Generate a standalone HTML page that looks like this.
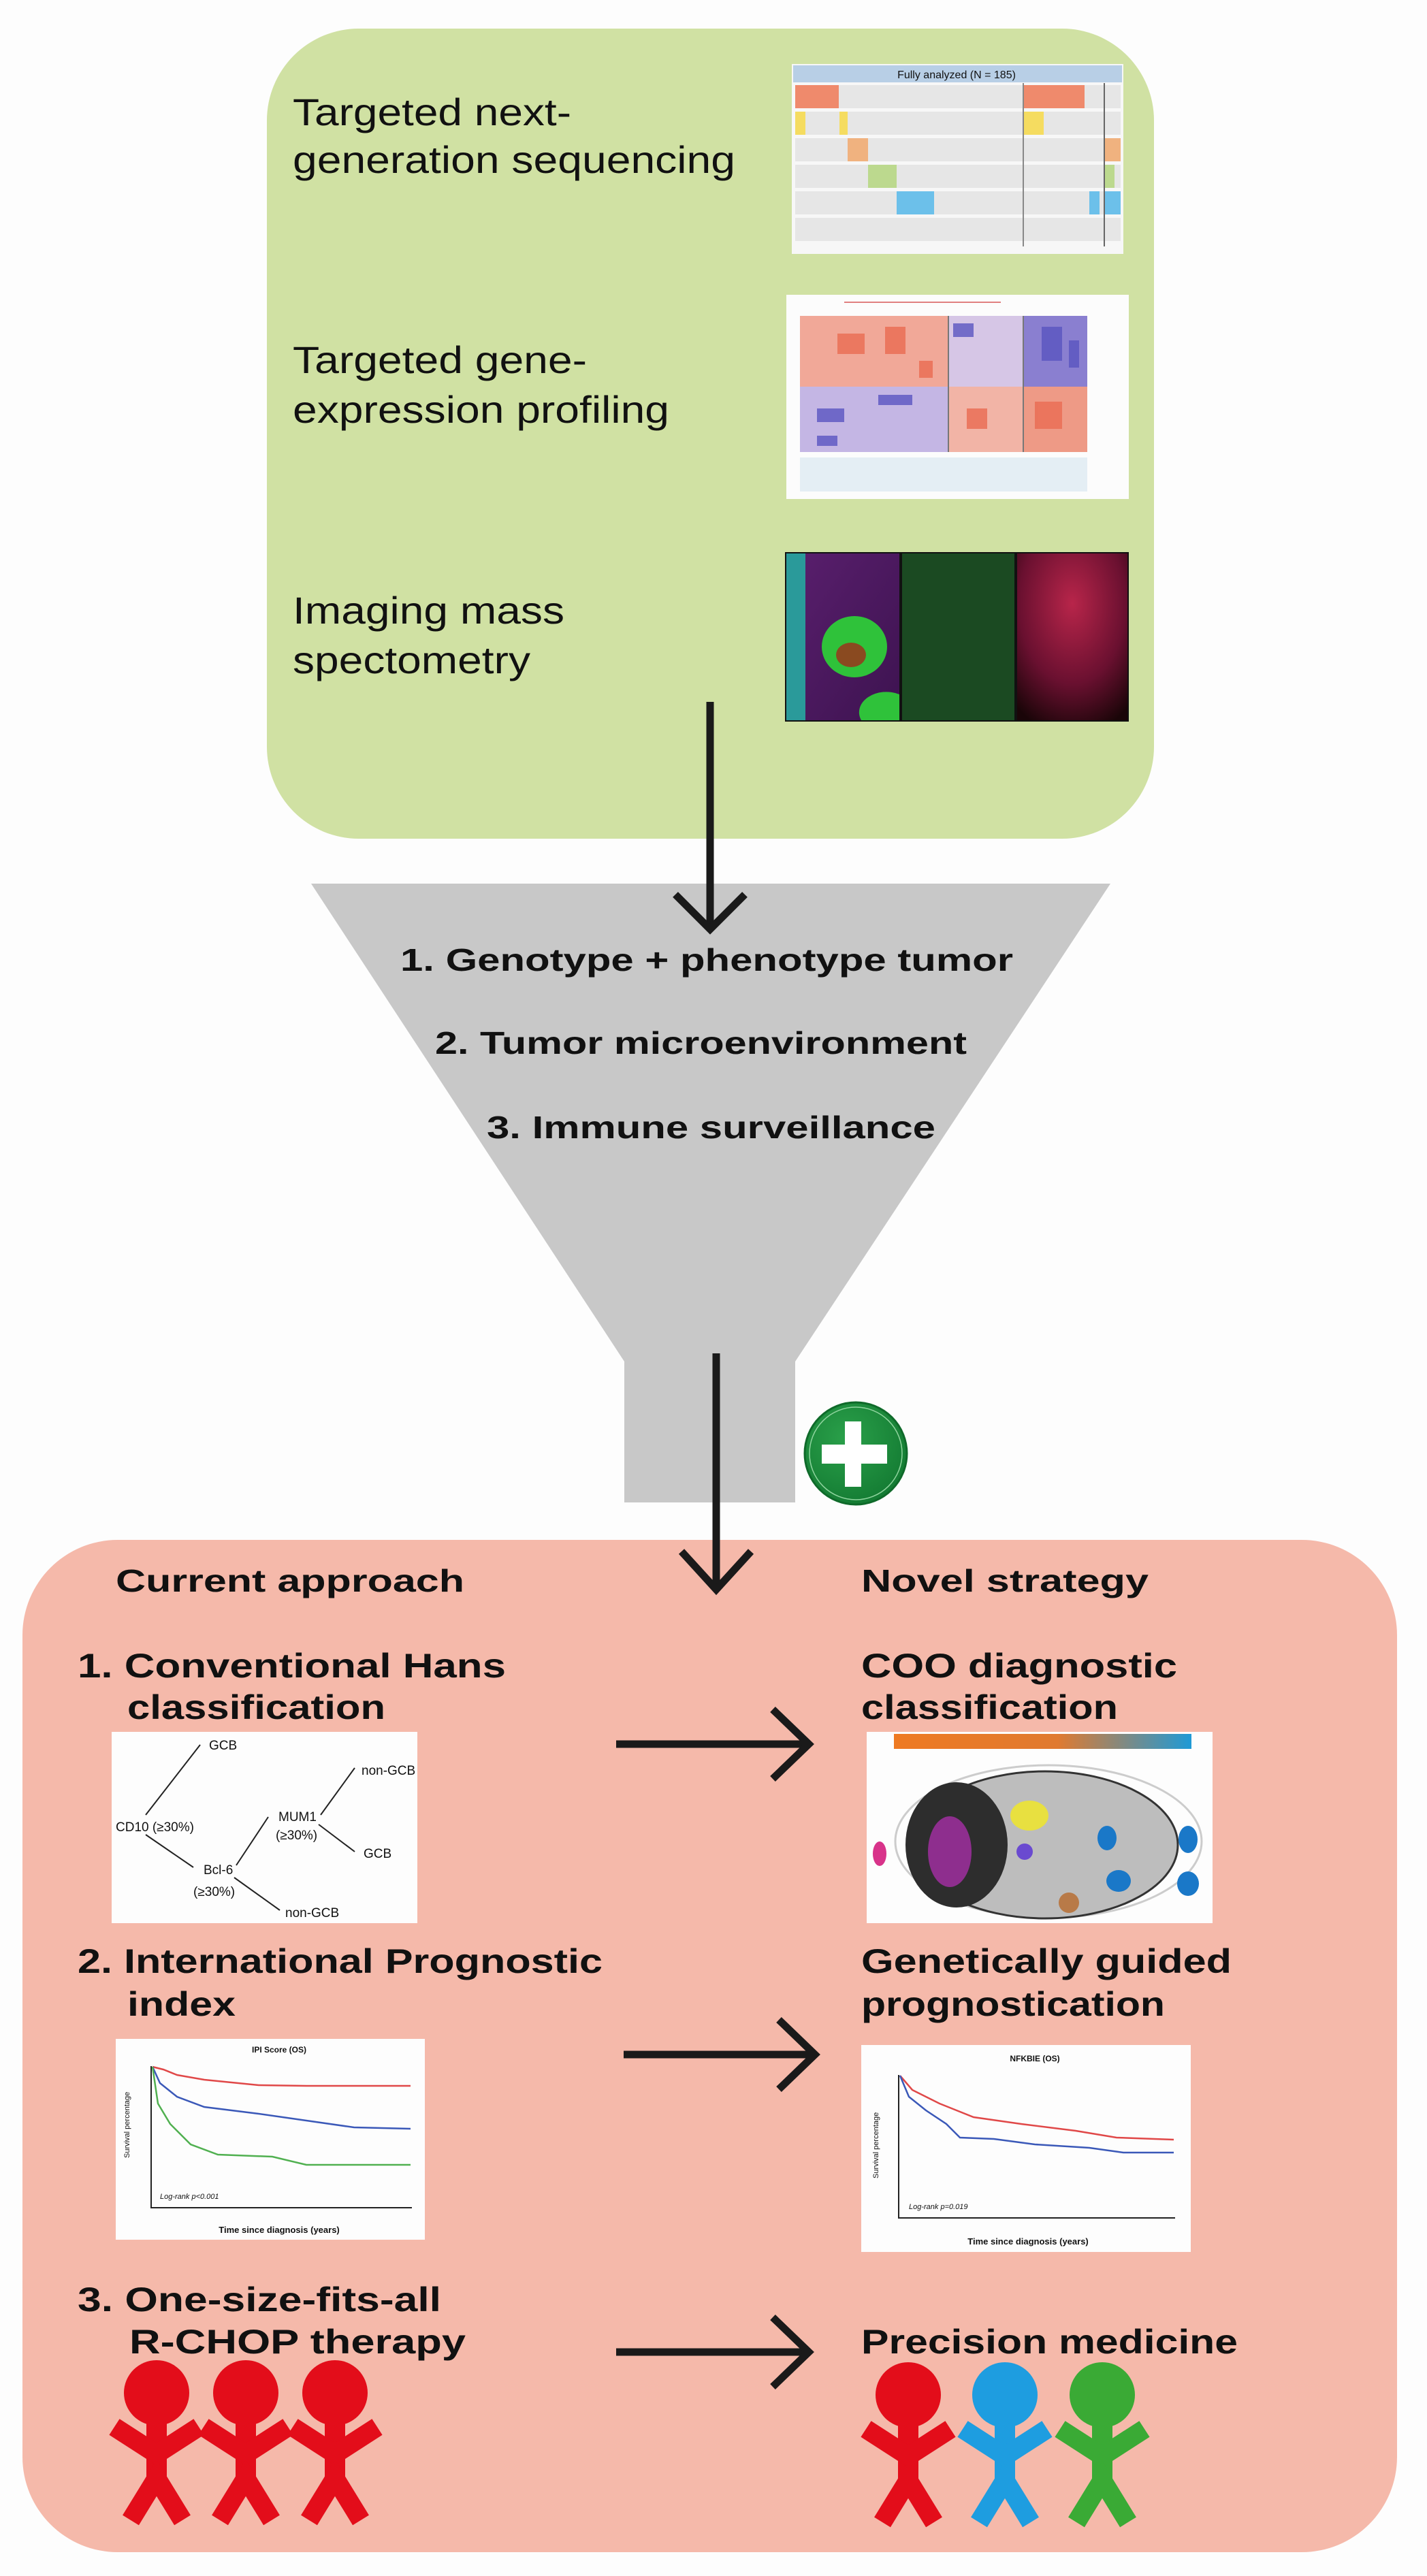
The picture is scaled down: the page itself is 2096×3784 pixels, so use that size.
<!DOCTYPE html>
<html><head><meta charset="utf-8">
<style>
html,body{margin:0;padding:0;background:#fdfdfd;}
svg{display:block;}
text{font-family:"Liberation Sans",sans-serif;fill:#111;}
</style></head>
<body>
<svg width="2096" height="3784" viewBox="0 0 2096 3784" xmlns="http://www.w3.org/2000/svg">
<defs>
<linearGradient id="ims1" x1="0" y1="0" x2="1" y2="1"><stop offset="0" stop-color="#5a1f6e"/><stop offset="1" stop-color="#3d1350"/></linearGradient>
<radialGradient id="ims3" cx="0.5" cy="0.3" r="0.8"><stop offset="0" stop-color="#b8254a"/><stop offset="0.6" stop-color="#6a1030"/><stop offset="1" stop-color="#1a0508"/></radialGradient>
<linearGradient id="cooBar" x1="0" x2="1"><stop offset="0" stop-color="#ee7a22"/><stop offset="0.55" stop-color="#e07a30"/><stop offset="1" stop-color="#1f9ad6"/></linearGradient>
<radialGradient id="plusG" cx="0.4" cy="0.35" r="0.7"><stop offset="0" stop-color="#2aa04a"/><stop offset="1" stop-color="#137a32"/></radialGradient>
</defs>

<rect x="392" y="42" width="1303" height="1190" rx="135" fill="#d0e1a3"/>
<text x="430" y="184" font-size="56" textLength="409" lengthAdjust="spacingAndGlyphs">Targeted next-</text>
<text x="430" y="254" font-size="56" textLength="650" lengthAdjust="spacingAndGlyphs">generation sequencing</text>
<text x="430" y="548" font-size="56" textLength="432" lengthAdjust="spacingAndGlyphs">Targeted gene-</text>
<text x="430" y="621" font-size="56" textLength="553" lengthAdjust="spacingAndGlyphs">expression profiling</text>
<text x="430" y="916" font-size="56" textLength="399" lengthAdjust="spacingAndGlyphs">Imaging mass</text>
<text x="430" y="989" font-size="56" textLength="349" lengthAdjust="spacingAndGlyphs">spectometry</text>

<g>
<rect x="1163" y="94" width="487" height="279" fill="#f7f7f7"/>
<rect x="1165" y="96" width="483" height="25" fill="#b8cfe6"/>
<text x="1405" y="115" font-size="16" text-anchor="middle" fill="#333">Fully analyzed (N = 185)</text>
<g fill="#e6e6e6">
<rect x="1168" y="125" width="478" height="34"/><rect x="1168" y="164" width="478" height="34"/>
<rect x="1168" y="203" width="478" height="34"/><rect x="1168" y="242" width="478" height="34"/>
<rect x="1168" y="281" width="478" height="34"/><rect x="1168" y="320" width="478" height="34"/>
</g>
<rect x="1168" y="125" width="64" height="34" fill="#ef8a6c"/>
<rect x="1503" y="125" width="90" height="34" fill="#ef8a6c"/>
<rect x="1168" y="164" width="15" height="34" fill="#f5dc60"/>
<rect x="1233" y="164" width="12" height="34" fill="#f5dc60"/>
<rect x="1503" y="164" width="30" height="34" fill="#f5dc60"/>
<rect x="1245" y="203" width="30" height="34" fill="#f0b27f"/>
<rect x="1623" y="203" width="23" height="34" fill="#f0b27f"/>
<rect x="1275" y="242" width="42" height="34" fill="#bcd98e"/>
<rect x="1623" y="242" width="14" height="34" fill="#bcd98e"/>
<rect x="1317" y="281" width="55" height="34" fill="#6cc0ea"/>
<rect x="1600" y="281" width="15" height="34" fill="#6cc0ea"/>
<rect x="1623" y="281" width="23" height="34" fill="#6cc0ea"/>
<rect x="1502" y="122" width="2" height="240" fill="#888"/>
<rect x="1621" y="122" width="2" height="240" fill="#666"/>
</g>

<g>
<rect x="1155" y="433" width="503" height="300" fill="#fcfcfc"/>
<rect x="1175" y="464" width="218" height="104" fill="#f1a898"/>
<rect x="1393" y="464" width="110" height="104" fill="#d6c6e6"/>
<rect x="1503" y="464" width="94" height="104" fill="#8a7fd0"/>
<rect x="1175" y="568" width="218" height="96" fill="#c4b6e4"/>
<rect x="1393" y="568" width="110" height="96" fill="#f2b4a6"/>
<rect x="1503" y="568" width="94" height="96" fill="#ee9a86"/>
<g fill="#ea6b52" opacity="0.8">
<rect x="1230" y="490" width="40" height="30"/><rect x="1300" y="480" width="30" height="40"/><rect x="1350" y="530" width="20" height="25"/>
<rect x="1420" y="600" width="30" height="30"/><rect x="1520" y="590" width="40" height="40"/>
</g>
<g fill="#5a55c0" opacity="0.8">
<rect x="1400" y="475" width="30" height="20"/><rect x="1530" y="480" width="30" height="50"/><rect x="1570" y="500" width="15" height="40"/>
<rect x="1200" y="600" width="40" height="20"/><rect x="1290" y="580" width="50" height="15"/><rect x="1200" y="640" width="30" height="15"/>
</g>
<rect x="1392" y="464" width="2" height="200" fill="#777"/>
<rect x="1502" y="464" width="2" height="200" fill="#777"/>
<rect x="1175" y="672" width="422" height="50" fill="#e4eef4"/>
<rect x="1240" y="443" width="230" height="2" fill="#e08080"/>
</g>

<g>
<rect x="1153" y="811" width="505" height="249" fill="#111"/>
<rect x="1155" y="813" width="166" height="245" fill="url(#ims1)"/>
<rect x="1155" y="813" width="28" height="245" fill="#2a9a9a"/>
<ellipse cx="1255" cy="950" rx="48" ry="45" fill="#2fc23a"/>
<ellipse cx="1250" cy="962" rx="22" ry="18" fill="#8a4a20"/>
<path d="M1265,1058 A40,30 0 0,1 1321,1020 L1321,1058 Z" fill="#2fc23a"/>
<rect x="1325" y="813" width="165" height="245" fill="#173a1c"/>
<rect x="1325" y="813" width="165" height="245" fill="#1f5a28" opacity="0.5"/>
<rect x="1494" y="813" width="162" height="245" fill="url(#ims3)"/>
</g>

<polygon points="457,1298 1631,1298 1168,2000 1168,2207 917,2207 917,2000" fill="#c8c8c8"/>
<g stroke="#1a1a1a" stroke-width="11" fill="none">
<line x1="1043" y1="1031" x2="1043" y2="1362"/>
<polyline points="992,1314 1043,1365 1094,1314"/>
</g>
<text x="588" y="1426" font-size="46" font-weight="bold" textLength="900" lengthAdjust="spacingAndGlyphs">1. Genotype + phenotype tumor</text>
<text x="639" y="1548" font-size="46" font-weight="bold" textLength="781" lengthAdjust="spacingAndGlyphs">2. Tumor microenvironment</text>
<text x="715" y="1672" font-size="46" font-weight="bold" textLength="659" lengthAdjust="spacingAndGlyphs">3. Immune surveillance</text>

<rect x="33" y="2262" width="2019" height="1487" rx="140" fill="#f5b9aa"/>

<g stroke="#1a1a1a" stroke-width="11" fill="none">
<line x1="1052" y1="1988" x2="1052" y2="2332"/>
<polyline points="1001,2279 1052,2335 1103,2279"/>
</g>

<circle cx="1257" cy="2135" r="75" fill="url(#plusG)" stroke="#0f6a2a" stroke-width="3"/>
<circle cx="1257" cy="2135" r="68" fill="none" stroke="#8fd49e" stroke-width="1.5"/>
<rect x="1207" y="2122" width="96" height="28" fill="#fff"/>
<rect x="1241" y="2088" width="24" height="96" fill="#fff"/>

<text x="170" y="2338" font-size="46" font-weight="bold" textLength="512" lengthAdjust="spacingAndGlyphs">Current approach</text>
<text x="1265" y="2338" font-size="46" font-weight="bold" textLength="422" lengthAdjust="spacingAndGlyphs">Novel strategy</text>

<text x="114" y="2464" font-size="50" font-weight="bold" textLength="629" lengthAdjust="spacingAndGlyphs">1. Conventional Hans</text>
<text x="187" y="2525" font-size="50" font-weight="bold" textLength="379" lengthAdjust="spacingAndGlyphs">classification</text>
<text x="1265" y="2464" font-size="50" font-weight="bold" textLength="464" lengthAdjust="spacingAndGlyphs">COO diagnostic</text>
<text x="1265" y="2525" font-size="50" font-weight="bold" textLength="377" lengthAdjust="spacingAndGlyphs">classification</text>

<!-- Hans image -->
<g>
<rect x="164" y="2544" width="449" height="281" fill="#fdfdfd"/>
<g stroke="#222" stroke-width="2" fill="none">
<line x1="214" y1="2666" x2="294" y2="2563"/>
<line x1="214" y1="2695" x2="284" y2="2743"/>
<line x1="347" y1="2740" x2="394" y2="2669"/>
<line x1="344" y1="2758" x2="411" y2="2806"/>
<line x1="471" y1="2666" x2="521" y2="2597"/>
<line x1="468" y1="2680" x2="521" y2="2720"/>
</g>
<g font-size="19" fill="#222">
<text x="307" y="2570">GCB</text>
<text x="170" y="2690">CD10 (≥30%)</text>
<text x="409" y="2675">MUM1</text>
<text x="405" y="2702">(≥30%)</text>
<text x="531" y="2607">non-GCB</text>
<text x="534" y="2729">GCB</text>
<text x="299" y="2753">Bcl-6</text>
<text x="284" y="2785">(≥30%)</text>
<text x="419" y="2816">non-GCB</text>
</g>
</g>

<g>
<rect x="1273" y="2544" width="508" height="281" fill="#fdfdfd"/>
<rect x="1313" y="2547" width="437" height="22" fill="url(#cooBar)"/>
<ellipse cx="1540" cy="2705" rx="225" ry="112" fill="none" stroke="#ccc" stroke-width="3"/>
<ellipse cx="1535" cy="2710" rx="195" ry="108" fill="#bdbdbd" stroke="#333" stroke-width="3"/>
<ellipse cx="1405" cy="2710" rx="75" ry="92" fill="#2d2d2d"/>
<ellipse cx="1395" cy="2720" rx="32" ry="52" fill="#8e2e8e"/>
<ellipse cx="1292" cy="2723" rx="10" ry="18" fill="#d8338a"/>
<ellipse cx="1512" cy="2667" rx="28" ry="22" fill="#e8e040"/>
<circle cx="1505" cy="2720" r="12" fill="#6a4ad0"/>
<ellipse cx="1626" cy="2700" rx="14" ry="18" fill="#1a78c8"/>
<ellipse cx="1745" cy="2702" rx="14" ry="20" fill="#1a78c8"/>
<ellipse cx="1643" cy="2763" rx="18" ry="16" fill="#1a78c8"/>
<ellipse cx="1745" cy="2767" rx="16" ry="18" fill="#1a78c8"/>
<circle cx="1570" cy="2795" r="15" fill="#b87a48"/>
</g>

<g stroke="#1a1a1a" stroke-width="11" fill="none">
<line x1="905" y1="2562" x2="1186" y2="2562"/>
<polyline points="1135,2511 1188,2562 1135,2613"/>
</g>

<text x="114" y="2898" font-size="50" font-weight="bold" textLength="771" lengthAdjust="spacingAndGlyphs">2. International Prognostic</text>
<text x="187" y="2961" font-size="50" font-weight="bold" textLength="159" lengthAdjust="spacingAndGlyphs">index</text>
<text x="1265" y="2898" font-size="50" font-weight="bold" textLength="544" lengthAdjust="spacingAndGlyphs">Genetically guided</text>
<text x="1265" y="2961" font-size="50" font-weight="bold" textLength="446" lengthAdjust="spacingAndGlyphs">prognostication</text>

<g>
<rect x="170" y="2995" width="454" height="295" fill="#fdfdfd"/>
<text x="410" y="3015" font-size="12" font-weight="bold" text-anchor="middle">IPI Score (OS)</text>
<polyline points="222,3035 222,3243 605,3243" stroke="#222" stroke-width="2" fill="none"/>
<polyline points="224,3036 240,3040 260,3048 300,3055 380,3063 450,3064 603,3064" stroke="#e04848" stroke-width="2.5" fill="none"/>
<polyline points="224,3036 235,3060 260,3080 300,3095 380,3105 450,3115 520,3125 603,3127" stroke="#3a58b8" stroke-width="2.5" fill="none"/>
<polyline points="224,3036 232,3090 250,3120 280,3150 320,3165 400,3168 450,3180 603,3180" stroke="#50b050" stroke-width="2.5" fill="none"/>
<text x="190" y="3170" font-size="11" transform="rotate(-90 190 3170)">Survival percentage</text>
<text x="235" y="3230" font-size="11" font-style="italic">Log-rank p&lt;0.001</text>
<text x="410" y="3280" font-size="13" font-weight="bold" text-anchor="middle">Time since diagnosis (years)</text>
</g>

<g>
<rect x="1265" y="3004" width="484" height="304" fill="#fdfdfd"/>
<text x="1520" y="3028" font-size="12" font-weight="bold" text-anchor="middle">NFKBIE (OS)</text>
<polyline points="1320,3048 1320,3258 1726,3258" stroke="#222" stroke-width="2" fill="none"/>
<polyline points="1322,3049 1340,3070 1380,3090 1430,3110 1500,3120 1580,3130 1640,3140 1724,3143" stroke="#e04848" stroke-width="2.5" fill="none"/>
<polyline points="1322,3049 1335,3080 1360,3100 1390,3120 1410,3140 1460,3142 1520,3150 1600,3155 1650,3162 1724,3162" stroke="#3a58b8" stroke-width="2.5" fill="none"/>
<text x="1290" y="3200" font-size="11" transform="rotate(-90 1290 3200)">Survival percentage</text>
<text x="1335" y="3245" font-size="11" font-style="italic">Log-rank p=0.019</text>
<text x="1510" y="3297" font-size="13" font-weight="bold" text-anchor="middle">Time since diagnosis (years)</text>
</g>

<g stroke="#1a1a1a" stroke-width="11" fill="none">
<line x1="916" y1="3018" x2="1195" y2="3018"/>
<polyline points="1144,2967 1197,3018 1144,3069"/>
</g>

<text x="114" y="3395" font-size="50" font-weight="bold" textLength="534" lengthAdjust="spacingAndGlyphs">3. One-size-fits-all</text>
<text x="190" y="3457" font-size="50" font-weight="bold" textLength="494" lengthAdjust="spacingAndGlyphs">R-CHOP therapy</text>
<text x="1265" y="3457" font-size="50" font-weight="bold" textLength="553" lengthAdjust="spacingAndGlyphs">Precision medicine</text>

<g stroke="#1a1a1a" stroke-width="11" fill="none">
<line x1="905" y1="3455" x2="1186" y2="3455"/>
<polyline points="1135,3404 1188,3455 1135,3506"/>
</g>

<g>
<g fill="#e30d1a" stroke="#e30d1a">
<circle cx="230" cy="3515" r="48" stroke="none"/>
<line x1="230" y1="3550" x2="230" y2="3650" stroke-width="30"/>
<polyline points="168,3565 230,3605 292,3565" stroke-width="28" fill="none"/>
<polyline points="192,3702 230,3640 268,3702" stroke-width="28" fill="none"/>
</g>
<g fill="#e30d1a" stroke="#e30d1a">
<circle cx="361" cy="3515" r="48" stroke="none"/>
<line x1="361" y1="3550" x2="361" y2="3650" stroke-width="30"/>
<polyline points="299,3565 361,3605 423,3565" stroke-width="28" fill="none"/>
<polyline points="323,3702 361,3640 399,3702" stroke-width="28" fill="none"/>
</g>
<g fill="#e30d1a" stroke="#e30d1a">
<circle cx="492" cy="3515" r="48" stroke="none"/>
<line x1="492" y1="3550" x2="492" y2="3650" stroke-width="30"/>
<polyline points="430,3565 492,3605 554,3565" stroke-width="28" fill="none"/>
<polyline points="454,3702 492,3640 530,3702" stroke-width="28" fill="none"/>
</g>
<g fill="#e30d1a" stroke="#e30d1a">
<circle cx="1334" cy="3518" r="48" stroke="none"/>
<line x1="1334" y1="3553" x2="1334" y2="3653" stroke-width="30"/>
<polyline points="1272,3568 1334,3608 1396,3568" stroke-width="28" fill="none"/>
<polyline points="1296,3705 1334,3643 1372,3705" stroke-width="28" fill="none"/>
</g>
<g fill="#1e9de0" stroke="#1e9de0">
<circle cx="1476" cy="3518" r="48" stroke="none"/>
<line x1="1476" y1="3553" x2="1476" y2="3653" stroke-width="30"/>
<polyline points="1414,3568 1476,3608 1538,3568" stroke-width="28" fill="none"/>
<polyline points="1438,3705 1476,3643 1514,3705" stroke-width="28" fill="none"/>
</g>
<g fill="#3aaa35" stroke="#3aaa35">
<circle cx="1619" cy="3518" r="48" stroke="none"/>
<line x1="1619" y1="3553" x2="1619" y2="3653" stroke-width="30"/>
<polyline points="1557,3568 1619,3608 1681,3568" stroke-width="28" fill="none"/>
<polyline points="1581,3705 1619,3643 1657,3705" stroke-width="28" fill="none"/>
</g>
</g>
</svg>
</body></html>
